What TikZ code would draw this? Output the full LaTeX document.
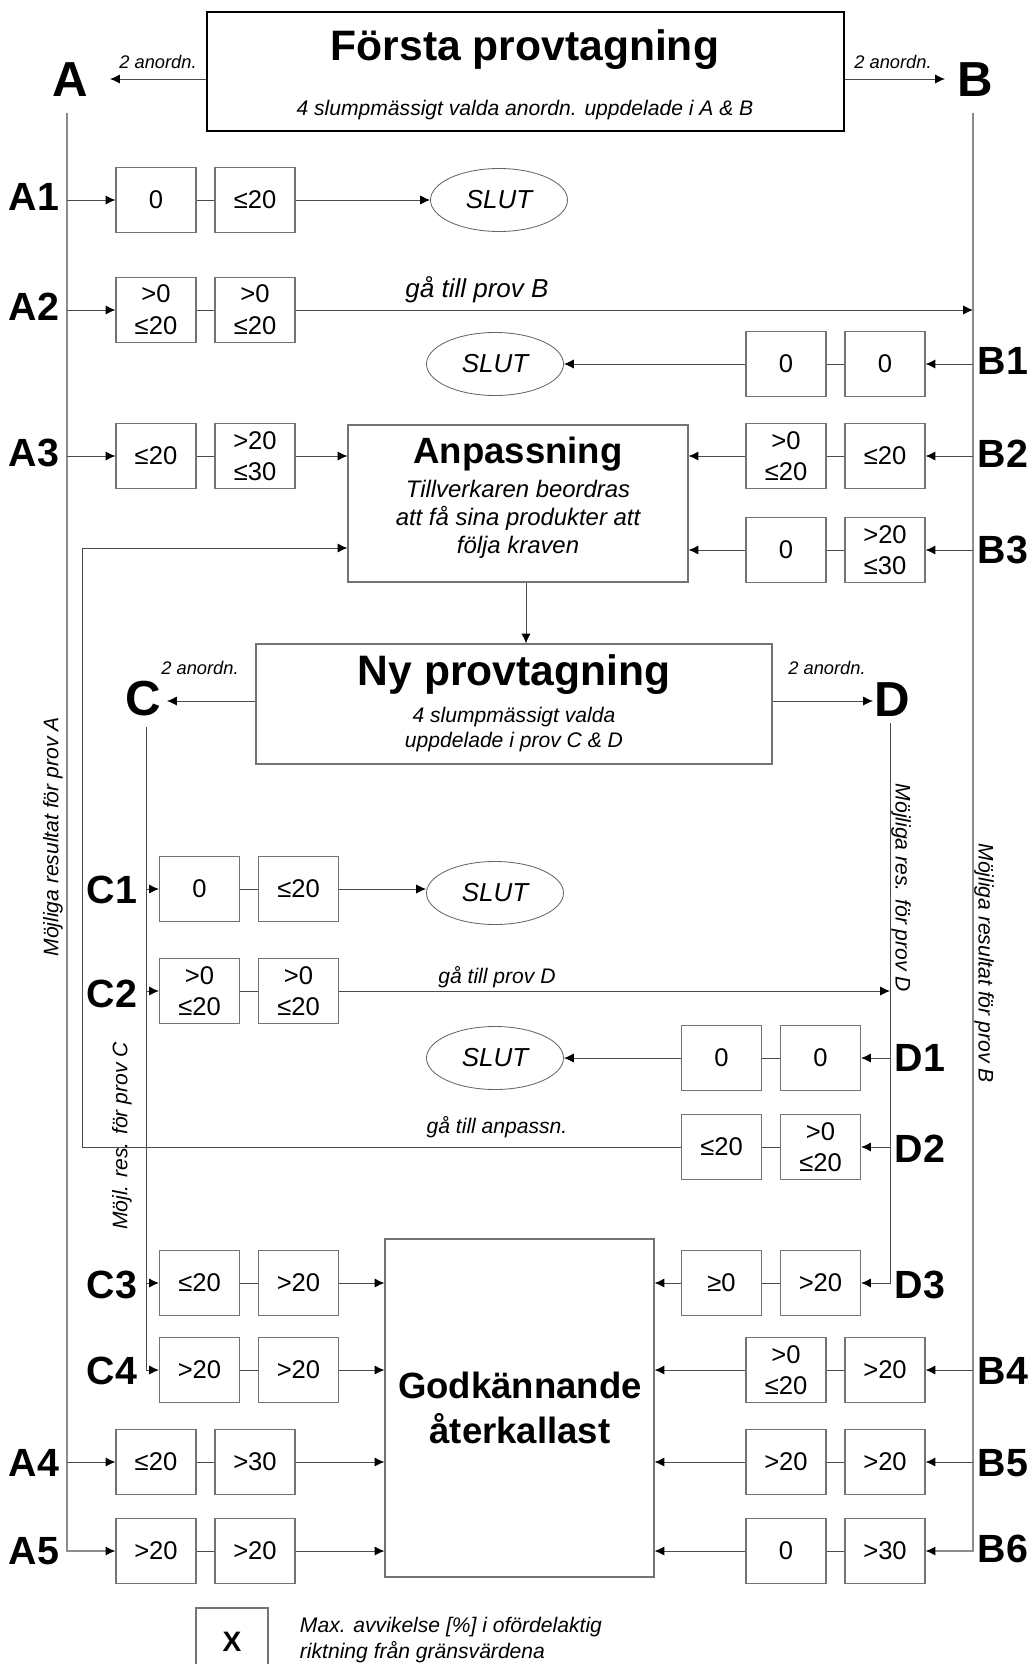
\documentclass[tikz,border=0pt]{standalone}
\usepackage{fontspec}
\setmainfont{Liberation Sans}
\usetikzlibrary{arrows.meta,shapes.geometric}

\newcommand{\fTitle}{\fontsize{30.3}{36}\selectfont\bfseries}
\newcommand{\fHead}{\fontsize{26}{31}\selectfont\bfseries}
\newcommand{\fBig}{\fontsize{35}{40}\selectfont\bfseries}
\newcommand{\fRow}{\fontsize{28}{32}\selectfont\bfseries}
\newcommand{\fVal}{\fontsize{18.2}{22.5}\selectfont}
\newcommand{\fSlut}{\fontsize{18.5}{22}\selectfont\itshape}
\newcommand{\fSub}{\fontsize{15}{18}\selectfont\itshape}
\newcommand{\fAnp}{\fontsize{17}{20}\selectfont\itshape}
\newcommand{\fGoB}{\fontsize{18.5}{22}\selectfont\itshape}
\newcommand{\fSmall}{\fontsize{13}{16}\selectfont\itshape}
\newcommand{\fX}{\fontsize{20}{24}\selectfont\bfseries}

\tikzset{
  conn/.style={draw=black!70, line width=0.7pt},
  arr/.style={conn, -{Latex[length=7pt,width=6.5pt,color=black]}},
  trunk/.style={draw=black!45, line width=0.9pt},
  trunkarr/.style={trunk, -{Latex[length=7pt,width=6.5pt,color=black]}},
  valbox/.style={draw=black!55, line width=0.8pt, minimum width=20mm, minimum height=16.25mm, inner sep=0pt, align=center, font=\fVal},
  slutnode/.style={ellipse, draw=black!60, line width=0.6pt, minimum width=34.25mm, minimum height=15.75mm, inner sep=0pt, font=\fSlut},
  stepbox/.style={draw=black!55, line width=0.8pt, inner sep=0pt},
  bigletter/.style={font=\fBig, inner sep=0pt},
  rowlabel/.style={font=\fRow, inner sep=0pt},
}

\begin{document}
\begin{tikzpicture}[x=0.25mm, y=-0.25mm]
\useasboundingbox (0,0) rectangle (1032,1664);

%% Första provtagning
\node[stepbox, draw=black, line width=2pt, minimum width=159.25mm, minimum height=29.75mm] (forsta) at (525.5,71.5) {};
\node[font=\fTitle, anchor=base] (forstaT) at (525,60) {Första provtagning};
\node[font=\fSub, anchor=base] (forstaS) at (525,115) {4 slumpmässigt valda anordn. uppdelade i A \& B};

\node[bigletter] (A) at (70,80) {A};
\node[bigletter] (B) at (975,80) {B};
\node[font=\fSmall, anchor=base] (aN) at (158,68) {2 anordn.};
\node[font=\fSmall, anchor=base] (bN) at (893,68) {2 anordn.};
\coordinate (aIn) at (110,79);
\coordinate (bIn) at (945,79);
\draw[arr] (forsta.west |- aIn) -- (aIn);
\draw[arr] (forsta.east |- bIn) -- (bIn);
\coordinate (aTop) at (67,113);
\coordinate (bTop) at (973,113);

\node[font=\fSub, rotate=90] (resA) at (53,837) {Möjliga resultat för prov A};
\node[font=\fSub, rotate=-90] (resB) at (984,963) {Möjliga resultat för prov B};

%% Anpassning
\node[stepbox, minimum width=85mm, minimum height=39.25mm] (anp) at (518,503.5) {};
\node[font=\fHead, anchor=base] (anpT) at (518,463) {Anpassning};
\node[font=\fAnp, anchor=base] (anpS1) at (518,497) {Tillverkaren beordras};
\node[font=\fAnp, anchor=base] (anpS2) at (518,525) {att få sina produkter att};
\node[font=\fAnp, anchor=base] (anpS3) at (518,553) {följa kraven};

%% Ny provtagning
\node[stepbox, minimum width=129mm, minimum height=30mm] (ny) at (514,704) {};
\node[font=\fTitle, anchor=base] (nyT) at (514,685) {Ny provtagning};
\node[font=\fSub, anchor=base] (nyS1) at (514,722) {4 slumpmässigt valda};
\node[font=\fSub, anchor=base] (nyS2) at (514,747) {uppdelade i prov C \& D};
\draw[arr] ([xshift=2mm]anp.south) -- ([xshift=2mm]anp.south |- ny.north);

\node[bigletter] (C) at (143,699) {C};
\node[bigletter] (D) at (892,700) {D};
\node[font=\fSmall, anchor=base] (cN) at (200,674) {2 anordn.};
\node[font=\fSmall, anchor=base] (dN) at (827,674) {2 anordn.};
\coordinate (cIn) at (167,701);
\coordinate (dIn) at (873,701);
\draw[arr] (ny.west |- cIn) -- (cIn);
\draw[arr] (ny.east |- dIn) -- (dIn);
\coordinate (cTop) at (146,727);
\coordinate (dTop) at (890,723);

\node[font=\fSub, rotate=90] (resC) at (122,1136) {Möjl. res. för prov C};
\node[font=\fSub, rotate=-90] (resD) at (901,888) {Möjliga res. för prov D};

%% Godkännande
\node[stepbox, minimum width=67.25mm, minimum height=84.5mm] (godk) at (519.5,1408) {};
\node[font=\fHead, anchor=base] (godkT1) at (520,1398) {Godkännande};
\node[font=\fHead, anchor=base] (godkT2) at (520,1443) {återkallast};

%% SLUT
\node[slutnode] (s1) at (499,200) {SLUT};
\node[slutnode] (s2) at (495,364) {SLUT};
\node[slutnode] (s3) at (495,893) {SLUT};
\node[slutnode] (s4) at (495,1058) {SLUT};

%% prov A
\node[rowlabel] (lA1) at (34,197) {A1};
\node[rowlabel] (lA2) at (34,307) {A2};
\node[rowlabel] (lA3) at (34,453) {A3};
\node[rowlabel] (lA4) at (34,1463) {A4};
\node[rowlabel] (lA5) at (34,1551) {A5};

\node[valbox] (a1l) at (156,200) {0};
\node[valbox] (a1r) at (255,200) {≤20};
\node[valbox] (a2l) at (156,310) {>0\\≤20};
\node[valbox] (a2r) at (255,310) {>0\\≤20};
\node[valbox] (a3l) at (156,456) {≤20};
\node[valbox] (a3r) at (255,456) {>20\\≤30};
\node[valbox] (a4l) at (156,1462) {≤20};
\node[valbox] (a4r) at (255,1462) {>30};
\node[valbox] (a5l) at (156,1551) {>20};
\node[valbox] (a5r) at (255,1551) {>20};

\draw[trunkarr] (aTop) |- (a5l.west);
\draw[arr] (aTop |- a1l) -- (a1l.west);
\draw[arr] (aTop |- a2l) -- (a2l.west);
\draw[arr] (aTop |- a3l) -- (a3l.west);
\draw[arr] (aTop |- a4l) -- (a4l.west);
\draw[conn] (a1l) -- (a1r);
\draw[conn] (a2l) -- (a2r);
\draw[conn] (a3l) -- (a3r);
\draw[conn] (a4l) -- (a4r);
\draw[conn] (a5l) -- (a5r);
\draw[arr] (a1r.east) -- (s1.west);
\draw[arr] (a2r.east) -- (a2r.east -| bTop);
\draw[arr] (a3r.east) -- (a3r.east -| anp.west);
\draw[arr] (a4r.east) -- (a4r.east -| godk.west);
\draw[arr] (a5r.east) -- (a5r.east -| godk.west);
\node[font=\fGoB, anchor=base] (goB) at (477,297) {gå till prov B};

%% prov B
\node[rowlabel] (lB1) at (1003,361) {B1};
\node[rowlabel] (lB2) at (1003,454) {B2};
\node[rowlabel] (lB3) at (1003,550) {B3};
\node[rowlabel] (lB4) at (1003,1371) {B4};
\node[rowlabel] (lB5) at (1003,1463) {B5};
\node[rowlabel] (lB6) at (1003,1549) {B6};

\node[valbox] (b1l) at (786,364) {0};
\node[valbox] (b1r) at (885,364) {0};
\node[valbox] (b2l) at (786,456) {>0\\≤20};
\node[valbox] (b2r) at (885,456) {≤20};
\node[valbox] (b3l) at (786,550) {0};
\node[valbox] (b3r) at (885,550) {>20\\≤30};
\node[valbox] (b4l) at (786,1370) {>0\\≤20};
\node[valbox] (b4r) at (885,1370) {>20};
\node[valbox] (b5l) at (786,1462) {>20};
\node[valbox] (b5r) at (885,1462) {>20};
\node[valbox] (b6l) at (786,1551) {0};
\node[valbox] (b6r) at (885,1551) {>30};

\draw[trunkarr] (bTop) |- (b6r.east);
\draw[arr] (bTop |- b1r) -- (b1r.east);
\draw[arr] (bTop |- b2r) -- (b2r.east);
\draw[arr] (bTop |- b3r) -- (b3r.east);
\draw[arr] (bTop |- b4r) -- (b4r.east);
\draw[arr] (bTop |- b5r) -- (b5r.east);
\draw[conn] (b1l) -- (b1r);
\draw[conn] (b2l) -- (b2r);
\draw[conn] (b3l) -- (b3r);
\draw[conn] (b4l) -- (b4r);
\draw[conn] (b5l) -- (b5r);
\draw[conn] (b6l) -- (b6r);
\draw[arr] (b1l.west) -- (s2.east);
\draw[arr] (b2l.west) -- (b2l.west -| anp.east);
\draw[arr] (b3l.west) -- (b3l.west -| anp.east);
\draw[arr] (b4l.west) -- (b4l.west -| godk.east);
\draw[arr] (b5l.west) -- (b5l.west -| godk.east);
\draw[arr] (b6l.west) -- (b6l.west -| godk.east);

%% prov C
\node[rowlabel] (lC1) at (112,890) {C1};
\node[rowlabel] (lC2) at (112,994) {C2};
\node[rowlabel] (lC3) at (112,1285) {C3};
\node[rowlabel] (lC4) at (112,1371) {C4};

\node[valbox] (c1l) at (199.5,889) {0};
\node[valbox] (c1r) at (298.5,889) {≤20};
\node[valbox] (c2l) at (199.5,991) {>0\\≤20};
\node[valbox] (c2r) at (298.5,991) {>0\\≤20};
\node[valbox] (c3l) at (199.5,1283) {≤20};
\node[valbox] (c3r) at (298.5,1283) {>20};
\node[valbox] (c4l) at (199.5,1370) {>20};
\node[valbox] (c4r) at (298.5,1370) {>20};

\draw[arr] (cTop) |- (c4l.west);
\draw[arr] (cTop |- c1l) -- (c1l.west);
\draw[arr] (cTop |- c2l) -- (c2l.west);
\draw[arr] (cTop |- c3l) -- (c3l.west);
\draw[conn] (c1l) -- (c1r);
\draw[conn] (c2l) -- (c2r);
\draw[conn] (c3l) -- (c3r);
\draw[conn] (c4l) -- (c4r);
\draw[arr] (c1r.east) -- (c1r.east -| s3.west);
\draw[arr] (c2r.east) -- (c2r.east -| dTop);
\draw[arr] (c3r.east) -- (c3r.east -| godk.west);
\draw[arr] (c4r.east) -- (c4r.east -| godk.west);
\node[font=\fSub, anchor=base] (goD) at (497,983) {gå till prov D};

%% prov D
\node[rowlabel] (lD1) at (920,1058) {D1};
\node[rowlabel] (lD2) at (920,1149) {D2};
\node[rowlabel] (lD3) at (920,1285) {D3};

\node[valbox] (d1l) at (721.5,1058) {0};
\node[valbox] (d1r) at (820.5,1058) {0};
\node[valbox] (d2l) at (721.5,1147) {≤20};
\node[valbox] (d2r) at (820.5,1147) {>0\\≤20};
\node[valbox] (d3l) at (721.5,1283) {≥0};
\node[valbox] (d3r) at (820.5,1283) {>20};

\draw[arr] (dTop) |- (d3r.east);
\draw[arr] (dTop |- d1r) -- (d1r.east);
\draw[arr] (dTop |- d2r) -- (d2r.east);
\draw[conn] (d1l) -- (d1r);
\draw[conn] (d2l) -- (d2r);
\draw[conn] (d3l) -- (d3r);
\draw[arr] (d1l.west) -- (d1l.west -| s4.east);
\draw[arr] (d3l.west) -- (d3l.west -| godk.east);

% tillbaka till anpassning
\coordinate (back) at (82,548);
\draw[arr] (d2l.west) -| (back) -- (back -| anp.west);
\node[font=\fSub, anchor=base] (goAnp) at (497,1133) {gå till anpassn.};

%% förklaring
\node[valbox, font=\fX, minimum width=18mm, minimum height=17mm] (legend) at (232,1642) {X};
\node[font=\fSub, anchor=base west] (legendT1) at (295,1632) {Max. avvikelse [\%] i ofördelaktig};
\node[font=\fSub, anchor=base west] (legendT2) at (295,1658) {riktning från gränsvärdena};

\end{tikzpicture}
\end{document}
